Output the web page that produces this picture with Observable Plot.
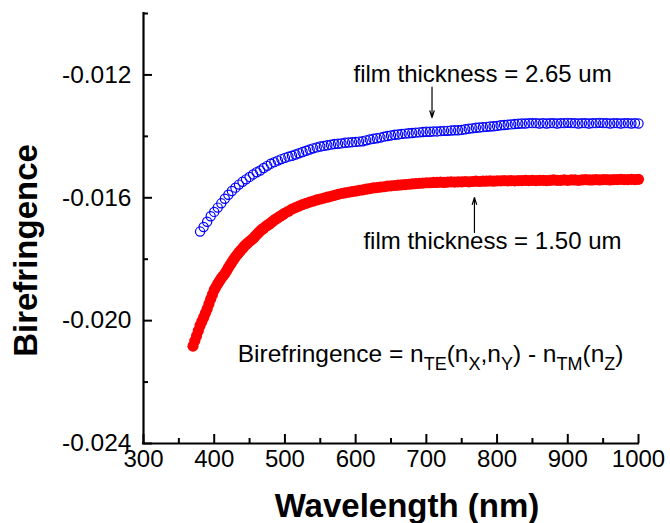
<!DOCTYPE html>
<html>
<head>
<meta charset="utf-8">
<script src="https://cdn.jsdelivr.net/npm/d3@7"></script>
<script src="https://cdn.jsdelivr.net/npm/@observablehq/plot@0.6"></script>
<style>
  html, body { margin: 0; padding: 0; background: #fff; }
  #chart svg { display: block; }
</style>
</head>
<body>
<div id="chart"></div>
<script>
// Film thickness = 1.50 um: wavelength (nm), finer sampling on the steep part
const wavelength150 = [
  370,372.5,375,377.5,380,382.5,385,387.5,390,392.5,
  395,397.5,400,402.5,405,407.5,410,412.5,415,417.5,
  420,422.5,425,427.5,430,432.5,435,437.5,440,442.5,
  445,447.5,450,452.5,455,457.5,460,462.5,465,467.5,
  470,472.5,475,477.5,480,482.5,485,487.5,490,492.5,
  495,497.5,500,505,510,515,
  520,525,530,535,540,545,550,555,560,565,
  570,575,580,585,590,595,600,605,610,615,
  620,625,630,635,640,645,650,655,660,665,
  670,675,680,685,690,695,700,705,710,715,
  720,725,730,735,740,745,750,755,760,765,
  770,775,780,785,790,795,800,805,810,815,
  820,825,830,835,840,845,850,855,860,865,
  870,875,880,885,890,895,900,905,910,915,
  920,925,930,935,940,945,950,955,960,965,
  970,975,980,985,990,995,1000
];
// Film thickness = 1.50 um: birefringence
const biref150 = [
  -0.02083,-0.02066,-0.02050,-0.02033,-0.02016,-0.02003,-0.01990,-0.01976,-0.01962,-0.01946,
  -0.01930,-0.01915,-0.01900,-0.01890,-0.01880,-0.01871,-0.01862,-0.01855,-0.01847,-0.01838,
  -0.01828,-0.01819,-0.01810,-0.01801,-0.01793,-0.01785,-0.01778,-0.01771,-0.01765,-0.01758,
  -0.01752,-0.01747,-0.01742,-0.01737,-0.01733,-0.01726,-0.01720,-0.01714,-0.01708,-0.01703,
  -0.01699,-0.01694,-0.01690,-0.01686,-0.01682,-0.01677,-0.01672,-0.01669,-0.01665,-0.01661,
  -0.01658,-0.01654,-0.01650,-0.01644,-0.01637,-0.01632,
  -0.01627,-0.01622,-0.01618,-0.01614,-0.01611,-0.01607,-0.01604,-0.01601,-0.01598,-0.01595,
  -0.01592,-0.01589,-0.01586,-0.01584,-0.01582,-0.01580,-0.01578,-0.01576,-0.01574,-0.01572,
  -0.01570,-0.01568,-0.01567,-0.01565,-0.01564,-0.01562,-0.01561,-0.01560,-0.01559,-0.01558,
  -0.01557,-0.01556,-0.01555,-0.01554,-0.01553,-0.01552,-0.01551,-0.01551,-0.01550,-0.01550,
  -0.01549,-0.01550,-0.01549,-0.01548,-0.01549,-0.01548,-0.01548,-0.01547,-0.01548,-0.01547,
  -0.01546,-0.01547,-0.01546,-0.01546,-0.01545,-0.01546,-0.01545,-0.01545,-0.01544,-0.01545,
  -0.01544,-0.01545,-0.01544,-0.01544,-0.01543,-0.01544,-0.01543,-0.01544,-0.01543,-0.01543,
  -0.01544,-0.01543,-0.01542,-0.01543,-0.01543,-0.01542,-0.01543,-0.01542,-0.01542,-0.01543,
  -0.01542,-0.01541,-0.01542,-0.01542,-0.01541,-0.01542,-0.01541,-0.01541,-0.01542,-0.01541,
  -0.01541,-0.01540,-0.01541,-0.01541,-0.01540,-0.01541,-0.01540
];

// Film thickness = 2.65 um: wavelength (nm)
const wavelength265 = [
  380,385,390,395,400,405,410,415,
  420,425,430,435,440,445,450,455,460,465,
  470,475,480,485,490,495,500,505,510,515,
  520,525,530,535,540,545,550,555,560,565,
  570,575,580,585,590,595,600,605,610,615,
  620,625,630,635,640,645,650,655,660,665,
  670,675,680,685,690,695,700,705,710,715,
  720,725,730,735,740,745,750,755,760,765,
  770,775,780,785,790,795,800,805,810,815,
  820,825,830,835,840,845,850,855,860,865,
  870,875,880,885,890,895,900,905,910,915,
  920,925,930,935,940,945,950,955,960,965,
  970,975,980,985,990,995,1000
];
// Film thickness = 2.65 um: birefringence
const biref265 = [
  -0.01710,-0.01695,-0.01678,-0.01660,-0.01646,-0.01632,-0.01618,-0.01603,
  -0.01590,-0.01578,-0.01567,-0.01557,-0.01548,-0.01540,-0.01532,-0.01524,-0.01517,-0.01511,
  -0.01503,-0.01496,-0.01489,-0.01484,-0.01479,-0.01474,-0.01470,-0.01466,-0.01463,-0.01459,
  -0.01455,-0.01451,-0.01447,-0.01443,-0.01439,-0.01436,-0.01433,-0.01431,-0.01429,-0.01427,
  -0.01425,-0.01424,-0.01423,-0.01421,-0.01420,-0.01419,-0.01418,-0.01417,-0.01416,-0.01413,
  -0.01410,-0.01408,-0.01406,-0.01404,-0.01401,-0.01399,-0.01397,-0.01395,-0.01394,-0.01392,
  -0.01391,-0.01390,-0.01389,-0.01388,-0.01387,-0.01386,-0.01385,-0.01385,-0.01384,-0.01384,
  -0.01383,-0.01382,-0.01382,-0.01381,-0.01380,-0.01380,-0.01379,-0.01377,-0.01375,-0.01374,
  -0.01372,-0.01371,-0.01370,-0.01369,-0.01368,-0.01367,-0.01366,-0.01364,-0.01363,-0.01362,
  -0.01361,-0.01360,-0.01359,-0.01358,-0.01358,-0.01357,-0.01357,-0.01357,-0.01358,-0.01357,
  -0.01358,-0.01357,-0.01357,-0.01358,-0.01357,-0.01357,-0.01356,-0.01357,-0.01357,-0.01358,
  -0.01357,-0.01357,-0.01358,-0.01357,-0.01357,-0.01356,-0.01357,-0.01357,-0.01358,-0.01357,
  -0.01357,-0.01358,-0.01357,-0.01357,-0.01358,-0.01357,-0.01358
];

// Axis ticks
const xTicks = [300, 400, 500, 600, 700, 800, 900, 1000];
const xMinorTicks = [350, 450, 550, 650, 750, 850, 950];
const yTicks = [-0.024, -0.020, -0.016, -0.012];
const yMinorTicks = [-0.022, -0.018, -0.014, -0.010];

const thin = wavelength150.map((w, i) => ({w, v: biref150[i]}));
const thick = wavelength265.map((w, i) => ({w, v: biref265[i]}));

const font = "'Liberation Sans', Arial, Helvetica, sans-serif";
const xMin = 300, yMin = -0.024;

const chart = Plot.plot({
  width: 670,
  height: 523,
  marginLeft: 143,
  marginRight: 32,
  marginTop: 13,
  marginBottom: 80,
  style: {fontFamily: font, background: "#fff", color: "#000", overflow: "visible"},
  x: {domain: [300, 1000]},
  y: {domain: [-0.024, -0.010]},
  marks: [
    // tick labels
    Plot.axisX(xTicks, {tickSize: 0, tickPadding: 6, fontSize: 24, tickFormat: d => String(d), label: null}),
    Plot.axisY(yTicks, {tickSize: 0, tickPadding: 12, fontSize: 24.5, tickFormat: d => d.toFixed(3), label: null}),
    // inward tick marks
    Plot.ruleX(xTicks, {x: d => d, y1: () => yMin, y2: () => yMin, insetTop: -9, strokeWidth: 2}),
    Plot.ruleX(xMinorTicks, {x: d => d, y1: () => yMin, y2: () => yMin, insetTop: -5, strokeWidth: 2}),
    Plot.ruleY(yTicks, {y: d => d, x1: () => xMin, x2: () => xMin, insetRight: -9, strokeWidth: 2}),
    Plot.ruleY(yMinorTicks, {y: d => d, x1: () => xMin, x2: () => xMin, insetRight: -5, strokeWidth: 2}),
    // axis lines
    Plot.ruleX([xMin], {strokeWidth: 2.2, strokeLinecap: "square"}),
    Plot.ruleY([yMin], {strokeWidth: 2.2, strokeLinecap: "square"}),
    // data
    Plot.dot(thin, {x: "w", y: "v", r: 5.6, fill: "#ff0000", stroke: "none"}),
    Plot.dot(thick, {x: "w", y: "v", r: 4.6, fill: "none", stroke: "#0000ff", strokeWidth: 1.2}),
    // annotations
    Plot.text(["film thickness = 2.65 um"], {x: () => 597, y: () => -0.01199, textAnchor: "start", fontSize: 24}),
    Plot.arrow([0], {x1: () => 708, y1: () => -0.01240, x2: () => 708, y2: () => -0.01339, strokeWidth: 1.2, headLength: 9, headAngle: 35}),
    Plot.text(["film thickness = 1.50 um"], {x: () => 611, y: () => -0.01741, textAnchor: "start", fontSize: 24}),
    Plot.arrow([0], {x1: () => 768, y1: () => -0.01713, x2: () => 768, y2: () => -0.01599, strokeWidth: 1.2, headLength: 9, headAngle: 35}),
    // axis titles
    Plot.text(["Wavelength (nm)"], {frameAnchor: "bottom", textAnchor: "middle", lineAnchor: "middle", dx: 16, dy: 63, fontSize: 33, fontWeight: "bold"}),
    Plot.text(["Birefringence"], {frameAnchor: "left", textAnchor: "middle", lineAnchor: "middle", rotate: -90, dx: -117, dy: 22, fontSize: 33, fontWeight: "bold"})
  ]
});

// Definition of the birefringence, with subscripts
const sx = chart.scale("x"), sy = chart.scale("y");
const formula = d3.select(chart).append("text")
  .attr("x", sx.apply(434))
  .attr("y", sy.apply(-0.02136))
  .attr("text-anchor", "start")
  .attr("font-family", font)
  .attr("font-size", 24.5)
  .attr("fill", "#000");
const parts = [
  ["Birefringence = n", false], ["TE", true], ["(n", false], ["X", true], [",n", false], ["Y", true],
  [") - n", false], ["TM", true], ["(n", false], ["Z", true], [")", false]
];
let shifted = false;
for (const [s, sub] of parts) {
  const dy = sub && !shifted ? 8 : (!sub && shifted ? -8 : 0);
  formula.append("tspan")
    .attr("dy", dy)
    .attr("font-size", sub ? 18 : 24.5)
    .style("white-space", "pre")
    .text(s);
  shifted = sub;
}

document.getElementById("chart").append(chart);
</script>
</body>
</html>
